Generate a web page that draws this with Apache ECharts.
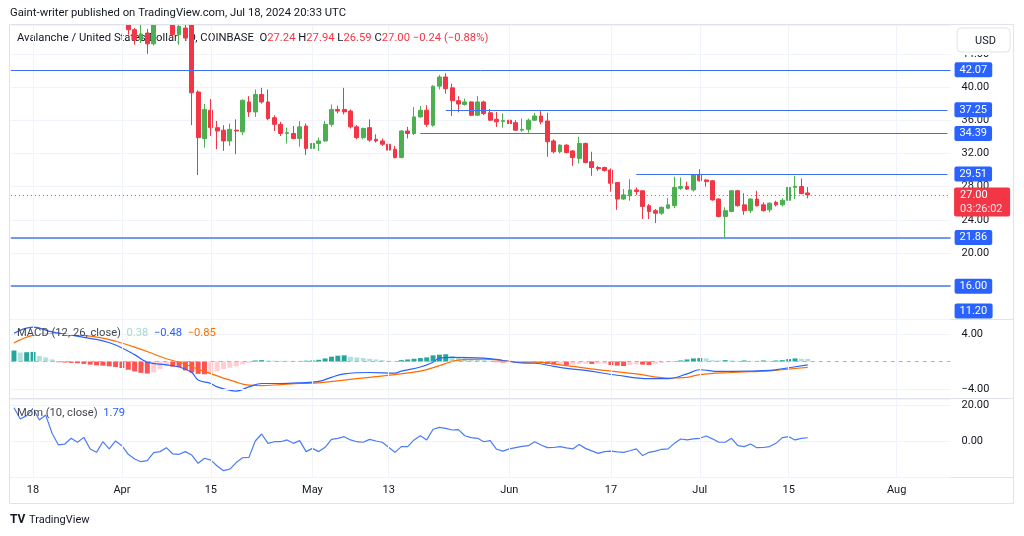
<!DOCTYPE html>
<html>
<head>
<meta charset="utf-8">
<script src="https://cdn.jsdelivr.net/npm/echarts@6/dist/echarts.min.js"></script>
<style>
html,body{margin:0;padding:0;background:#ffffff;}
#chart{width:1024px;height:536px;}
</style>
</head>
<body>
<div id="chart"></div>
<script>
// ---------------- DATA ----------------
const firstDay = '2024-03-15';
const lastDay = '2024-08-09';

// daily candles from 2024-03-15 to 2024-07-18
const opens = [57.0,58.6,54.1,59.5,62.2,54.6,57.9,54.7,54.4,54.3,55.7,57.9,56.1,55.1,55.9,54.2,53.5,54.7,
  51.8,46.9,45.7,46.5,45.2,48.6,50.0,50.5,46.3,47.1,47.6,39.4,33.8,37.2,35.1,34.8,33.5,34.8,34.6,38.2,37.0,39.1,
  38.2,36.3,35.5,34.4,34.4,33.8,35.3,32.6,33.2,33.5,35.5,37.3,37.3,37.1,35.2,33.9,35.1,33.7,33.5,33.1,32.5,31.5,
  34.7,34.4,36.4,37.2,35.4,40.1,41.2,39.9,38.35,37.9,38.2,36.6,38.2,36.9,36.1,35.85,36.0,35.7,34.8,34.9,36.0,36.5,
  35.9,33.5,32.2,33.0,32.3,31.4,33.2,31.0,30.3,30.3,30.0,28.5,26.5,26.9,27.6,27.5,25.7,25.1,24.8,25.4,25.7,27.8,
  28.0,27.6,29.4,28.8,28.7,26.5,24.4,25.0,27.5,25.8,25.1,26.5,25.8,25.2,26.1,25.8,26.35,27.9,28.0,27.24];
const highs = [60.4,59.3,60.2,64.0,62.8,58.8,58.6,56.0,56.3,56.9,59.0,58.6,56.9,56.8,56.4,55.0,55.4,55.2,
  52.3,47.1,47.8,47.0,49.2,50.8,51.5,51.0,47.6,47.7,48.2,39.6,37.95,38.55,35.9,35.4,35.6,36.1,38.5,38.9,39.7,39.9,
  39.7,36.6,35.8,35.1,35.3,35.9,35.6,33.9,33.9,35.9,37.9,37.75,39.9,37.3,35.4,35.1,36.1,34.3,33.8,33.8,32.9,34.8,
  35.2,37.6,37.7,37.8,40.2,41.45,41.65,40.4,38.9,38.6,38.3,38.9,38.35,37.35,37.0,36.8,36.2,36.0,36.2,36.2,36.9,37.1,
  36.9,33.7,33.1,33.1,32.4,34.0,33.3,32.2,30.5,30.4,30.2,28.5,27.7,28.9,27.9,27.5,25.9,25.3,25.6,26.6,29.2,29.1,
  28.6,29.5,30.1,28.9,28.8,26.6,25.5,27.6,27.6,27.2,26.6,27.5,26.1,26.1,26.3,26.6,28.1,29.3,29.0,27.94];
const lows = [55.2,52.8,53.6,58.7,52.9,53.9,53.5,52.6,52.4,53.6,55.1,55.0,53.8,54.2,53.4,52.1,52.9,50.9,
  46.3,45.1,45.3,44.0,45.0,48.2,49.0,46.1,45.1,45.6,35.4,29.4,32.7,34.1,32.5,32.3,32.9,31.9,34.2,36.4,36.4,38.0,
  36.0,34.7,34.1,33.2,33.7,32.8,31.8,30.6,32.3,33.4,35.2,36.8,36.7,35.0,33.7,33.7,33.4,33.3,32.9,32.2,31.4,31.4,
  33.8,34.2,36.3,35.2,35.2,39.7,39.2,36.5,36.95,37.75,36.5,36.5,36.6,35.9,35.2,35.1,35.5,34.7,34.6,34.5,35.9,35.5,
  31.6,32.0,32.0,32.0,30.5,30.8,30.8,29.3,29.9,29.8,27.4,25.2,26.4,26.3,27.0,24.1,24.1,23.6,24.6,25.3,25.4,27.6,
  27.6,27.4,28.6,28.0,26.3,24.3,21.86,24.9,25.6,24.6,24.8,25.6,25.0,24.9,25.6,25.6,26.2,26.5,27.1,26.59];
const closes = [58.6,54.1,59.5,62.2,54.6,57.9,54.7,54.4,54.3,55.7,57.9,56.1,55.1,55.9,54.2,53.5,54.7,51.8,
  46.9,45.7,46.4,45.2,48.6,50.0,50.5,46.3,47.3,45.9,39.3,33.9,37.3,35.1,34.7,33.5,34.9,34.7,38.4,37.0,39.1,38.2,
  36.2,35.5,34.4,34.5,33.8,35.2,32.6,33.2,33.5,35.5,37.3,37.1,37.0,35.2,33.9,35.0,33.6,33.5,33.1,32.4,31.5,34.7,
  34.4,36.4,37.2,35.5,40.1,41.2,39.8,38.35,37.95,38.2,36.6,38.2,36.8,36.0,35.8,35.95,35.6,34.8,34.9,36.0,36.5,35.8,
  33.4,32.2,33.0,32.1,31.5,33.2,30.9,30.3,30.15,29.95,28.4,26.5,27.0,27.6,27.4,25.6,25.0,24.8,25.5,25.8,27.9,28.0,
  27.7,29.4,28.7,28.6,26.4,24.4,25.1,27.5,25.7,25.1,26.5,25.7,25.1,26.0,25.8,26.35,27.9,28.05,27.15,27.00];

// MACD histogram, one bar per day from 2024-03-15
const histValues = [1.6,1.3,1.35,1.4,0.8,0.6,0.3,-0.1,-0.15,-0.2,-0.25,-0.35,-0.45,-0.55,-0.6,-0.7,-0.8,-0.95,
  -1.2,-1.45,-1.65,-1.75,-1.6,-1.1,-0.6,-0.75,-0.8,-1.3,-1.6,-1.8,-1.85,-1.7,-1.4,-1.1,-0.9,-0.7,-0.4,-0.2,
  0.15,0.2,0.15,0.12,0.1,0.1,0.1,0.1,0.12,0.15,0.25,0.45,0.7,0.85,0.9,0.7,0.6,0.5,0.4,0.3,0.2,0.1,0.05,
  0.2,0.3,0.4,0.5,0.6,0.9,1.0,1.05,0.8,0.6,0.5,0.4,0.3,0.2,0.1,-0.1,-0.15,-0.1,-0.15,-0.1,-0.05,-0.1,-0.2,
  -0.35,-0.45,-0.45,-0.5,-0.45,-0.35,-0.3,-0.35,-0.3,-0.3,-0.5,-0.6,-0.65,-0.5,-0.4,-0.45,-0.5,-0.35,-0.2,-0.1,
  0.05,0.15,0.3,0.45,0.5,0.45,0.2,0.15,0.2,0.15,0.1,0.15,0.1,0.1,0.15,0.1,0.15,0.2,0.35,0.45,0.4,0.38];

// MACD line and signal line, read at sample days
const macdDates = ['2024-03-15','2024-03-18','2024-03-21','2024-03-24','2024-03-26','2024-03-29','2024-03-31',
  '2024-04-03','2024-04-05','2024-04-08','2024-04-10','2024-04-12','2024-04-13','2024-04-15','2024-04-16',
  '2024-04-18','2024-04-19','2024-04-21','2024-04-23','2024-04-26','2024-04-29','2024-05-02','2024-05-04',
  '2024-05-06','2024-05-10','2024-05-14','2024-05-15','2024-05-18','2024-05-20','2024-05-21','2024-05-23',
  '2024-05-28','2024-05-31','2024-06-03','2024-06-05','2024-06-08','2024-06-10','2024-06-13','2024-06-18',
  '2024-06-23','2024-06-26','2024-06-29','2024-07-01','2024-07-04','2024-07-06','2024-07-12','2024-07-14','2024-07-18'];
const macdVals = [4.1,5.0,4.3,3.85,3.5,3.0,2.4,1.0,-0.1,-0.5,-0.8,-1.6,-2.7,-3.2,-3.7,-4.2,-4.3,-3.7,-3.2,-3.2,
  -3.1,-2.9,-2.3,-1.8,-1.6,-1.7,-1.4,-0.8,-0.1,0.5,0.6,0.5,0.15,-0.2,-0.25,-0.7,-1.0,-1.3,-2.0,-2.5,-2.5,-1.8,
  -1.2,-1.45,-1.45,-1.3,-1.05,-0.48];
const signalDates = ['2024-03-15','2024-03-18','2024-03-21','2024-03-24','2024-03-26','2024-03-29','2024-03-31',
  '2024-04-03','2024-04-06','2024-04-08','2024-04-10','2024-04-13','2024-04-16','2024-04-19','2024-04-21',
  '2024-04-23','2024-04-26','2024-04-29','2024-05-02','2024-05-06','2024-05-10','2024-05-14','2024-05-18',
  '2024-05-21','2024-05-24','2024-05-28','2024-05-31','2024-06-03','2024-06-05','2024-06-10','2024-06-16',
  '2024-06-21','2024-06-26','2024-06-29','2024-07-01','2024-07-06','2024-07-12','2024-07-15','2024-07-18'];
const signalVals = [2.7,3.8,4.0,3.9,3.8,3.4,2.95,2.1,1.1,0.4,-0.1,-1.1,-2.1,-3.0,-3.45,-3.5,-3.35,-3.2,-3.1,
  -2.7,-2.3,-1.9,-1.4,-0.6,0.2,0.35,0.15,-0.1,-0.1,-0.6,-1.3,-1.8,-2.4,-2.3,-1.9,-1.6,-1.35,-1.1,-0.85];

// Momentum (10), one value per day from 2024-03-15
const momValues = [18.5,12.2,14.1,18.1,11.7,14.4,4.3,-2.2,-1.7,1.5,-0.7,2.0,-4.4,-6.3,-0.4,-4.4,0.0,-2.6,
  -7.4,-10.0,-11.5,-10.9,-6.5,-5.9,-3.7,-7.2,-7.4,-5.9,-7.8,-12.4,-9.6,-10.6,-13.9,-16.5,-15.6,-12.0,-9.3,-9.1,
  0.0,3.9,-1.3,-0.4,-0.4,0.6,-1.3,0.2,-5.9,-4.1,-5.9,-3.5,0.9,1.5,2.4,0.6,-0.4,-0.7,0.9,0.0,-0.7,-3.5,-6.3,
  -3.1,-3.1,0.6,2.9,0.6,6.5,7.6,7.0,6.1,6.3,2.9,1.9,1.5,-0.4,0.2,-4.6,-5.6,-4.4,-3.7,-3.0,-2.6,-0.4,-2.2,
  -3.7,-3.6,-3.1,-3.8,-4.4,-1.9,-4.1,-5.5,-6.9,-5.9,-5.6,-6.0,-6.3,-5.4,-4.4,-8.1,-6.3,-5.6,-4.6,-4.4,-1.3,1.1,
  0.6,1.2,1.5,2.8,1.2,-0.7,-0.7,1.5,-2.6,-3.1,-1.7,-3.7,-3.6,-3.1,-1.3,1.9,2.4,0.6,1.5,1.79];

// horizontal level lines
const levelValues = [42.07, 37.25, 34.39, 29.51, 21.86, 16.00];
const levelStarts = [null, '2024-05-22', '2024-05-18', '2024-06-21', null, null];
const offscreenLevel = 11.20;
const currentPrice = 27.00;
const countdownText = '03:26:02';

// x-axis tick labels
const tickDates = ['2024-03-18','2024-04-01','2024-04-15','2024-05-01','2024-05-13','2024-06-01','2024-06-17','2024-07-01','2024-07-15','2024-08-01'];
const tickTexts = ['18','Apr','15','May','13','Jun','17','Jul','15','Aug'];

// ---------------- BUILD ----------------
const categories = [];
(function(){
  const d = new Date(firstDay + 'T00:00:00Z');
  const end = new Date(lastDay + 'T00:00:00Z');
  while (d <= end) { categories.push(d.toISOString().slice(0,10)); d.setUTCDate(d.getUTCDate()+1); }
})();
const lastCat = categories[categories.length-1];
const tickMap = {};
tickDates.forEach((d,i)=>{ tickMap[d] = tickTexts[i]; });

const candleData = opens.map((o,i)=>[o, closes[i], lows[i], highs[i]]);
const histData = histValues.map((v,i)=>{
  const prev = i>0 ? histValues[i-1] : -Infinity;
  let c;
  if (v >= 0) c = v > prev ? '#26a69a' : '#b2dfdb';
  else c = v < prev ? '#ff5252' : '#ffcdd2';
  return {value: v, itemStyle: {color: c}};
});

const FONT = 'Roboto, "Noto Sans", sans-serif';
const TXT = '#131722';
const GRIDC = '#f0f3fa';
const BLUE = '#2962ff';
const UP = '#4caf50', DOWN = '#f23645';
const GL = 10.8, GW = 939.8;

const vLines = tickDates.map(d => ({xAxis: d}));
function gridSeries(idx, extra) {
  return {
    type: 'line', xAxisIndex: idx, yAxisIndex: idx, data: [], z: 1, silent: true,
    markLine: {
      symbol: 'none', silent: true, animation: false,
      lineStyle: {color: GRIDC, width: 1, type: 'solid'},
      label: {show: false},
      data: vLines.concat(extra || [])
    }
  };
}
function levelLabel(v, dist) {
  return {show: true, position: 'end', distance: dist, formatter: v.toFixed(2),
    backgroundColor: BLUE, color: '#ffffff', fontSize: 11, fontFamily: FONT,
    padding: [2,5,2,5], borderRadius: 2};
}
const levelMarks = levelValues.map((v,k)=>{
  const thick = v < 25;
  const ls = {color: thick ? '#6f98f7' : '#3c71f7', width: thick ? 2 : 1, type: 'solid'};
  if (levelStarts[k]) {
    return [{coord: [levelStarts[k], v], lineStyle: ls, label: levelLabel(v, 7)}, {coord: [lastCat, v]}];
  }
  return {yAxis: v, lineStyle: ls, label: levelLabel(v, 4)};
});
levelMarks.push({yAxis: currentPrice, lineStyle: {color: DOWN, width: 1, type: [1,3]}, label: {show: false}});

const xAxes = [0,1,2].map(i => ({
  type: 'category', gridIndex: i, data: categories, boundaryGap: true,
  axisLine: {show: false}, axisTick: {show: false}, splitLine: {show: false},
  axisLabel: i === 2 ? {
    show: true, color: TXT, fontSize: 11, fontFamily: FONT, margin: 8,
    interval: (idx, val) => tickMap[val] !== undefined,
    formatter: (val) => tickMap[val] || ''
  } : {show: false}
}));

const option = {
  animation: false,
  backgroundColor: '#ffffff',
  grid: [
    {left: GL, width: GW, top: 24.75, height: 294.65, outerBoundsMode: 'none'},
    {left: GL, width: GW, top: 320, height: 78, outerBoundsMode: 'none'},
    {left: GL, width: GW, top: 399, height: 78, outerBoundsMode: 'none'}
  ],
  xAxis: xAxes,
  yAxis: [
    {type: 'value', gridIndex: 0, position: 'right', min: 12, max: 47.5, interval: 4,
      axisLine: {show: false}, axisTick: {show: false},
      splitLine: {show: true, lineStyle: {color: GRIDC, width: 1}},
      axisLabel: {color: TXT, fontSize: 11, fontFamily: FONT, margin: 11,
        formatter: v => {
          const r = Math.round(v/4)*4;
          if (Math.abs(v - r) > 1e-6 || r < 20 || r > 44) return '';
          return r.toFixed(2);
        }}},
    {type: 'value', gridIndex: 1, position: 'right', min: -5.31, max: 6.04,
      axisLine: {show: false}, axisTick: {show: false}, splitLine: {show: false}, axisLabel: {show: false}},
    {type: 'value', gridIndex: 2, position: 'right', min: -20, max: 23.33, interval: 20,
      axisLine: {show: false}, axisTick: {show: false},
      splitLine: {show: true, lineStyle: {color: GRIDC, width: 1}},
      axisLabel: {color: TXT, fontSize: 11, fontFamily: FONT, margin: 11,
        formatter: v => {
          if (Math.abs(v - 20) < 1e-6) return '20.00';
          if (Math.abs(v) < 1e-6) return '0.00';
          return '';
        }}}
  ],
  series: [
    gridSeries(0),
    gridSeries(1, [
      {yAxis: 4, label: {show: true, position: 'end', distance: 11, formatter: '4.00', color: TXT, fontSize: 11, fontFamily: FONT}},
      {yAxis: -4, label: {show: true, position: 'end', distance: 11, formatter: '\u22124.00', color: TXT, fontSize: 11, fontFamily: FONT}},
      {yAxis: 0, lineStyle: {color: '#b2b5be', type: [4,4], width: 1}}
    ]),
    gridSeries(2),
    {
      type: 'candlestick', xAxisIndex: 0, yAxisIndex: 0, data: candleData, barWidth: '68%', z: 3, clip: true,
      itemStyle: {color: UP, color0: DOWN, borderColor: UP, borderColor0: DOWN, borderWidth: 1},
      markLine: {symbol: 'none', silent: true, animation: false, data: levelMarks}
    },
    {type: 'bar', xAxisIndex: 1, yAxisIndex: 1, data: histData, barWidth: '78%', z: 2},
    {type: 'line', xAxisIndex: 1, yAxisIndex: 1, data: macdDates.map((d,k)=>[d, macdVals[k]]),
      smooth: 0.4, symbol: 'none', lineStyle: {color: BLUE, width: 1.2}, z: 4},
    {type: 'line', xAxisIndex: 1, yAxisIndex: 1, data: signalDates.map((d,k)=>[d, signalVals[k]]),
      smooth: 0.4, symbol: 'none', lineStyle: {color: '#ff6d00', width: 1.2}, z: 3},
    {type: 'line', xAxisIndex: 2, yAxisIndex: 2, data: momValues, symbol: 'none',
      lineStyle: {color: '#4a7cf7', width: 1.2}, z: 3}
  ],
  graphic: [
    // white band above the price pane: hides the part of the candles that runs past the pane top
    {id: 'mask', type: 'rect', z: 50, silent: true, shape: {x: 0, y: 0, width: 1024, height: 24.5}, style: {fill: '#ffffff'}},
    {id: 'hdr', type: 'text', z: 60, x: 10, y: 13, style: {text: 'Gaint-writer published on TradingView.com, Jul 18, 2024 20:33 UTC',
      fill: TXT, font: '11.3px ' + FONT, verticalAlign: 'middle'}},
    {id: 'frame', type: 'rect', z: 60, shape: {x: 9.5, y: 24.5, width: 1004, height: 479}, silent: true,
      style: {fill: 'none', stroke: '#e0e3eb', lineWidth: 1}},
    {id: 'sep1', type: 'line', shape: {x1: 10, y1: 319.5, x2: 1013.5, y2: 319.5}, style: {stroke: '#e0e3eb', lineWidth: 1}},
    {id: 'sep2', type: 'line', shape: {x1: 10, y1: 398.5, x2: 1013.5, y2: 398.5}, style: {stroke: '#e0e3eb', lineWidth: 1}},
    {id: 'sep3', type: 'line', shape: {x1: 10, y1: 477.5, x2: 1013.5, y2: 477.5}, style: {stroke: '#e0e3eb', lineWidth: 1}},
    {id: 'leg', type: 'text', x: 17, y: 38, style: {
      text: '{t|Avalanche / United States Dollar, 1D, COINBASE}  {k|O}{v|27.24} {k|H}{v|27.94} {k|L}{v|26.59} {k|C}{v|27.00} {v|\u22120.24 (\u22120.88%)}',
      verticalAlign: 'middle', font: '11.25px ' + FONT,
      rich: {t: {fill: TXT, font: '11.25px ' + FONT}, k: {fill: TXT, font: '11.25px ' + FONT}, v: {fill: DOWN, font: '11.25px ' + FONT}}}},
    {id: 'macdleg', type: 'text', x: 17, y: 333, z: 10, style: {
      text: '{t|MACD (12, 26, close)}  {a|0.38}  {b|\u22120.48}  {c|\u22120.85}',
      verticalAlign: 'middle', font: '11.2px ' + FONT,
      rich: {t: {fill: '#434651', font: '11.2px ' + FONT}, a: {fill: '#a3d9d1', font: '11.2px ' + FONT},
        b: {fill: BLUE, font: '11.2px ' + FONT}, c: {fill: '#ff6d00', font: '11.2px ' + FONT}}}},
    {id: 'momleg', type: 'text', x: 17, y: 413, z: 10, style: {
      text: '{t|Mom (10, close)}  {b|1.79}',
      verticalAlign: 'middle', font: '11.2px ' + FONT,
      rich: {t: {fill: '#434651', font: '11.2px ' + FONT}, b: {fill: BLUE, font: '11.2px ' + FONT}}}},
    {id: 'usdbg', type: 'rect', z: 99, silent: true, shape: {x: 955, y: 26, width: 57, height: 29}, style: {fill: '#ffffff'}},
    {id: 'usd', type: 'rect', z: 100, shape: {x: 957, y: 28, width: 53, height: 24, r: 4},
      style: {fill: '#ffffff', stroke: '#e0e3eb', lineWidth: 1}},
    {id: 'usdt', type: 'text', z: 101, x: 975, y: 41, style: {text: 'USD', fill: TXT, font: '11px ' + FONT, verticalAlign: 'middle'}},
    {id: 'logo', type: 'text', x: 10, y: 520, style: {text: 'TV', fill: TXT, font: 'bold 12px ' + FONT, verticalAlign: 'middle'}},
    {id: 'logot', type: 'text', x: 29, y: 520, style: {text: 'TradingView', fill: TXT, font: '11px ' + FONT, verticalAlign: 'middle'}}
  ]
};

const chart = echarts.init(document.getElementById('chart'), null, {renderer: 'canvas'});
chart.setOption(option);

// price tag boxes placed with the library's own scale
const yPrice = chart.convertToPixel({yAxisIndex: 0}, currentPrice);
const yBottom = chart.convertToPixel({yAxisIndex: 0}, 12);
const boxX = GL + GW + 3.5;
chart.setOption({
  graphic: [
    {id: 'pbox', type: 'rect', z: 100, shape: {x: boxX, y: yPrice - 7.5, width: 56, height: 29, r: 2}, style: {fill: DOWN}},
    {id: 'pt1', type: 'text', z: 101, x: boxX + 6, y: yPrice, style: {text: currentPrice.toFixed(2), fill: '#ffffff', font: '11px ' + FONT, verticalAlign: 'middle'}},
    {id: 'pt2', type: 'text', z: 101, x: boxX + 6, y: yPrice + 14, style: {text: countdownText, fill: '#ffe3e6', font: '11px ' + FONT, verticalAlign: 'middle'}},
    {id: 'obox', type: 'rect', z: 100, shape: {x: GL + GW + 4, y: yBottom - 16, width: 38, height: 15, r: 2}, style: {fill: BLUE}},
    {id: 'ot', type: 'text', z: 101, x: GL + GW + 9, y: yBottom - 8.5, style: {text: offscreenLevel.toFixed(2), fill: '#ffffff', font: '11px ' + FONT, verticalAlign: 'middle'}}
  ]
});
</script>
</body>
</html>
